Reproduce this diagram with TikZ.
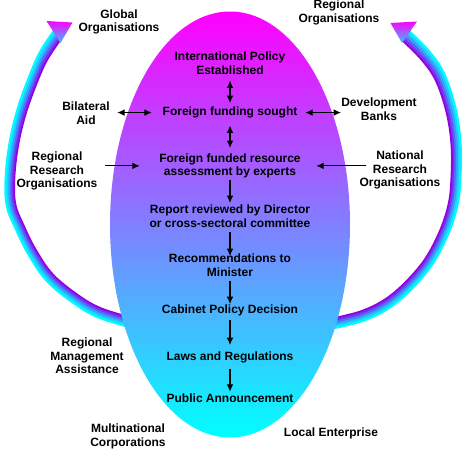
\documentclass[tikz,border=0pt]{standalone}
\usepackage{fontspec}
\setmainfont{Liberation Sans}
\usetikzlibrary{arrows.meta}
\definecolor{aw0}{RGB}{145,0,225}
\definecolor{aw1}{RGB}{115,50,240}
\definecolor{aw2}{RGB}{85,105,250}
\definecolor{aw3}{RGB}{55,160,255}
\definecolor{aw4}{RGB}{25,210,255}
\definecolor{aw5}{RGB}{0,250,255}
\definecolor{tipbot}{RGB}{60,190,255}
\begin{document}
\begin{tikzpicture}[x=0.75pt,y=-0.75pt,
  lbl/.style={font=\bfseries\fontsize{9}{10.1}\selectfont, align=center, inner sep=0pt, anchor=north},
  arr/.style={-{Latex[length=5.5pt,width=5pt]}, line width=0.8pt},
  darr/.style={{Latex[length=5.5pt,width=5pt]}-{Latex[length=5.5pt,width=5pt]}, line width=0.8pt},
  band/.style={line width=1.7pt, line cap=butt}]
\useasboundingbox (0,0) rectangle (462,449);

% curved arrows (bands)
\foreach \s/\c in {0.965/aw0, 0.979/aw1, 0.993/aw2, 1.007/aw3, 1.021/aw4, 1.035/aw5} {
  \draw[band, color=\c, scale around={\s:(130,185)}] plot[smooth, tension=0.6] coordinates
    {(58,34) (44,55) (34,77) (22,110) (14,143) (10,177) (11,205) (20,228) (32,252) (50,278) (77,300) (100,313) (132,323)};
  \draw[band, color=\c, scale around={\s:(332,185)}] plot[smooth, tension=0.6] coordinates
    {(404,34) (425,55) (440,77) (451,110) (456,143) (456,177) (453,205) (443,235) (425,267) (395,298) (365,315) (330,324)};
}
\shade[top color=magenta, bottom color=tipbot] (46.5,21) -- (72.5,22.5) -- (60.5,43) -- cycle;
\shade[top color=magenta, bottom color=tipbot] (390.5,23) -- (417,21.5) -- (402,43) -- cycle;

% central ellipse
\shade[top color=magenta, bottom color=cyan] (230,224.5) ellipse [x radius=90pt, y radius=159.75pt];

% labels
\node[lbl] (glob) at (119,9.3) {Global\\Organisations};
\node[lbl] (regorg) at (339,-0.2) {Regional\\Organisations};
\node[lbl] (intl) at (230,51.7) {International Policy\\Established};
\node[lbl] (ffs) at (230,106.7) {Foreign funding sought};
\node[lbl] (ffra) at (230,153.3) {Foreign funded resource\\assessment by experts};
\node[lbl] (rep) at (230,205) {Report reviewed by Director\\or cross-sectoral committee};
\node[lbl] (rec) at (230,254) {Recommendations to\\Minister};
\node[lbl] (cab) at (230,304.7) {Cabinet Policy Decision};
\node[lbl] (laws) at (230,351.7) {Laws and Regulations};
\node[lbl] (pub) at (230,394) {Public Announcement};
\node[lbl] (bil) at (86,102) {Bilateral\\Aid};
\node[lbl] (rro) at (57,152) {Regional\\Research\\Organisations};
\node[lbl] (dev) at (379,98) {Development\\Banks};
\node[lbl] (nro) at (400,150.7) {National\\Research\\Organisations};
\node[lbl] (rma) at (87,337.7) {Regional\\Management\\Assistance};
\node[lbl] (mnc) at (128,423.7) {Multinational\\Corporations};
\node[lbl] (loc) at (331,427.7) {Local Enterprise};

% connectors
\draw[darr, shorten <=4.5pt, shorten >=2.8pt] (intl.south) -- (ffs.north);
\draw[darr, shorten <=5.3pt, shorten >=4pt] (ffs.south) -- (ffra.north);
\draw[arr, shorten <=1.5pt, shorten >=1.5pt] (ffra.south) -- (rep.north);
\draw[arr, shorten <=3.4pt, shorten >=-1.5pt] (rep.south) -- (rec.north);
\draw[arr, shorten <=2.8pt, shorten >=0.5pt] (rec.south) -- (cab.north);
\draw[arr, shorten <=3pt, shorten >=5pt] (cab.south) -- (laws.north);
\draw[arr, shorten <=3.8pt, shorten >=1.7pt] (laws.south) -- (pub.north);
\draw[darr, shorten <=5.5pt, shorten >=8pt] (bil.east |- ffs.west) -- (ffs.west);
\draw[arr, shorten <=5.8pt, shorten >=14.5pt] (rro.east |- ffra.west) -- (ffra.west);
\draw[darr, shorten <=5.8pt, shorten >=0pt] (ffs.east) -- (dev.west |- ffs.east);
\draw[arr, shorten <=-5pt, shorten >=11.5pt] (nro.west |- ffra.east) -- (ffra.east);
\end{tikzpicture}
\end{document}
